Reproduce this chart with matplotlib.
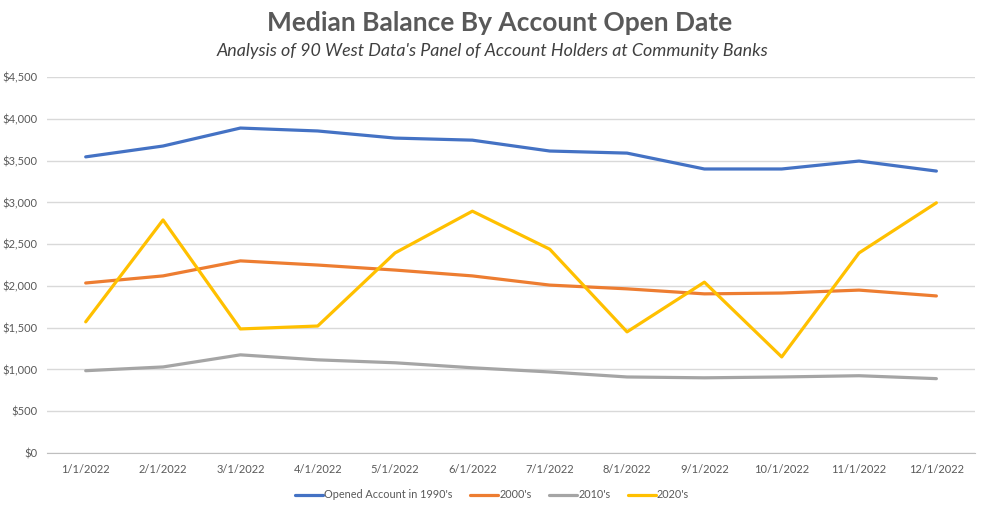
import matplotlib
matplotlib.use('Agg')
import matplotlib.pyplot as plt
from matplotlib.ticker import FuncFormatter

plt.rcParams['font.family'] = ['Lato', 'DejaVu Sans']

# данные
dates = ['1/1/2022', '2/1/2022', '3/1/2022', '4/1/2022', '5/1/2022', '6/1/2022',
         '7/1/2022', '8/1/2022', '9/1/2022', '10/1/2022', '11/1/2022', '12/1/2022']
s1990 = [3545, 3675, 3890, 3855, 3770, 3745, 3615, 3590, 3400, 3400, 3495, 3375]
s2000 = [2035, 2120, 2300, 2250, 2190, 2120, 2010, 1965, 1905, 1915, 1950, 1880]
s2010 = [985, 1030, 1175, 1115, 1080, 1020, 970, 910, 900, 910, 925, 890]
s2020 = [1570, 2790, 1485, 1520, 2395, 2895, 2440, 1450, 2045, 1150, 2395, 2995]

series = [
    ("Opened Account in 1990's", s1990, '#4472C4'),
    ("2000's", s2000, '#ED7D31'),
    ("2010's", s2010, '#A5A5A5'),
    ("2020's", s2020, '#FFC000'),
]

fig = plt.figure(figsize=(9.84, 5.14), dpi=100)
ax = fig.add_axes([0.0478, 0.1187, 0.9431, 0.7313])

x = list(range(len(dates)))
for name, vals, col in series:
    ax.plot(x, vals, color=col, lw=2.3, label=name, solid_capstyle='round')

ax.set_xlim(-0.5, len(dates) - 0.5)
ax.set_ylim(0, 4500)
ax.set_yticks(range(0, 4501, 500))
ax.yaxis.set_major_formatter(FuncFormatter(lambda v, p: '${:,.0f}'.format(v)))
ax.set_xticks(x)
ax.set_xticklabels(dates)
ax.grid(axis='y', color='#D9D9D9', lw=1)
ax.set_axisbelow(True)
for sp in ['top', 'right', 'left']:
    ax.spines[sp].set_visible(False)
ax.spines['bottom'].set_color('#BFBFBF')
ax.tick_params(axis='both', length=0, labelsize=8, colors='#595959', pad=8)
ax.tick_params(axis='y', pad=7)

fig.text(0.508, 0.955, 'Median Balance By Account Open Date', ha='center', va='center',
         fontsize=19, fontweight='bold', color='#595959')
fig.text(0.5, 0.9, "Analysis of 90 West Data's Panel of Account Holders at Community Banks",
         ha='center', va='center', fontsize=12.9, style='italic', color='#404040')

fig.legend(loc='center', bbox_to_anchor=(0.5, 0.037), ncol=4, frameon=False,
           fontsize=7.8, handlelength=2.6, handletextpad=0.1, columnspacing=1.6,
           labelcolor='#595959')

fig.savefig('out.png', dpi=100)
